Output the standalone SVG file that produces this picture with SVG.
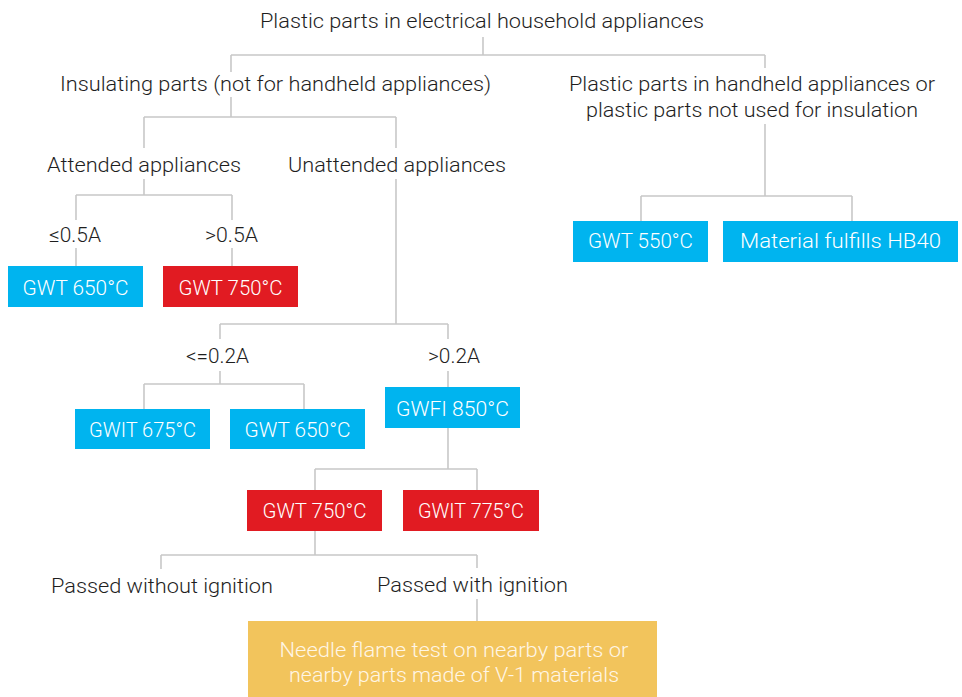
<svg xmlns="http://www.w3.org/2000/svg" width="962" height="697" viewBox="0 0 962 697">
<style>
.t{font-family:Roboto,"Noto Sans","Liberation Sans",sans-serif;font-size:20px;font-weight:300;fill:#1e1e1e;text-anchor:middle}
.w{fill:#ffffff}
.y{fill:#fff6e6}
.blue{fill:#00b4ef}
.red{fill:#e11b22}
.yel{fill:#f2c45c}
.c{fill:none;stroke:#c8c8c8;stroke-width:1.6}
</style>
<rect width="962" height="697" fill="#ffffff"/>
<g id="connectors">
<path class="c" d="M483,37V55M231,55H765M231,55V72M765,55V68"/>
<path class="c" d="M231,97V117M144,117H396M144,117V148M396,117V148"/>
<path class="c" d="M144,179V195M76,195H232M76,195V220M232,195V220M76,248V266M232,248V266"/>
<path class="c" d="M396,179V324M220,324H448M220,324V339M448,324V339"/>
<path class="c" d="M220,371V384M144,384H304M144,384V409M304,384V409"/>
<path class="c" d="M448,371V387M448,428V469M315,469H477M315,469V490M477,469V490"/>
<path class="c" d="M315,531V555M161,555H477M161,555V569M477,555V568M477,599V621"/>
<path class="c" d="M765,124V196M641,196H852M641,196V221M852,196V221"/>
</g>
<g id="root"><text class="t" x="482" y="28" textLength="444" lengthAdjust="spacingAndGlyphs">Plastic parts in electrical household appliances</text></g>
<g id="insulating"><text class="t" x="275.5" y="91" textLength="431" lengthAdjust="spacingAndGlyphs">Insulating parts (not for handheld appliances)</text></g>
<g id="handheld"><text class="t" x="752" y="91" textLength="366" lengthAdjust="spacingAndGlyphs">Plastic parts in handheld appliances or</text><text class="t" x="752" y="117" textLength="332" lengthAdjust="spacingAndGlyphs">plastic parts not used for insulation</text></g>
<g id="attended"><text class="t" x="144" y="172" textLength="194" lengthAdjust="spacingAndGlyphs">Attended appliances</text></g>
<g id="unattended"><text class="t" x="397" y="172" textLength="218" lengthAdjust="spacingAndGlyphs">Unattended appliances</text></g>
<g id="le05"><text class="t" x="75" y="242" textLength="52" lengthAdjust="spacingAndGlyphs">≤0.5A</text></g>
<g id="gt05"><text class="t" x="231.5" y="242" textLength="53" lengthAdjust="spacingAndGlyphs">&gt;0.5A</text></g>
<g id="gwt650a"><rect class="blue" x="8" y="266" width="135" height="41"/><text class="t w" x="75.5" y="295" textLength="106" lengthAdjust="spacingAndGlyphs">GWT 650°C</text></g>
<g id="gwt750a"><rect class="red" x="163" y="266" width="135" height="41"/><text class="t w" x="230.5" y="295" textLength="104" lengthAdjust="spacingAndGlyphs">GWT 750°C</text></g>
<g id="le02"><text class="t" x="217.5" y="363" textLength="63" lengthAdjust="spacingAndGlyphs">&lt;=0.2A</text></g>
<g id="gt02"><text class="t" x="454" y="363" textLength="52" lengthAdjust="spacingAndGlyphs">&gt;0.2A</text></g>
<g id="gwit675"><rect class="blue" x="75" y="409" width="135" height="40"/><text class="t w" x="142.5" y="437" textLength="107" lengthAdjust="spacingAndGlyphs">GWIT 675°C</text></g>
<g id="gwt650b"><rect class="blue" x="230" y="409" width="135" height="40"/><text class="t w" x="297.5" y="437" textLength="106" lengthAdjust="spacingAndGlyphs">GWT 650°C</text></g>
<g id="gwfi850"><rect class="blue" x="385" y="387" width="135" height="41"/><text class="t w" x="452.5" y="416" textLength="113" lengthAdjust="spacingAndGlyphs">GWFI 850°C</text></g>
<g id="gwt750b"><rect class="red" x="247" y="490" width="135" height="41"/><text class="t w" x="314.5" y="518" textLength="104" lengthAdjust="spacingAndGlyphs">GWT 750°C</text></g>
<g id="gwit775"><rect class="red" x="403" y="490" width="136" height="41"/><text class="t w" x="471" y="518" textLength="106" lengthAdjust="spacingAndGlyphs">GWIT 775°C</text></g>
<g id="passed-without"><text class="t" x="162" y="593" textLength="222" lengthAdjust="spacingAndGlyphs">Passed without ignition</text></g>
<g id="passed-with"><text class="t" x="472.5" y="592" textLength="191" lengthAdjust="spacingAndGlyphs">Passed with ignition</text></g>
<g id="needle"><rect class="yel" x="248" y="621" width="409" height="76"/><text class="t y" x="454" y="657" textLength="349" lengthAdjust="spacingAndGlyphs">Needle flame test on nearby parts or</text><text class="t y" x="454" y="682" textLength="330" lengthAdjust="spacingAndGlyphs">nearby parts made of V-1 materials</text></g>
<g id="gwt550"><rect class="blue" x="573" y="221" width="135" height="41"/><text class="t w" x="640.5" y="248" textLength="105" lengthAdjust="spacingAndGlyphs">GWT 550°C</text></g>
<g id="hb40"><rect class="blue" x="723" y="221" width="235" height="41"/><text class="t w" x="840.5" y="248" textLength="201" lengthAdjust="spacingAndGlyphs">Material fulfills HB40</text></g>
</svg>
